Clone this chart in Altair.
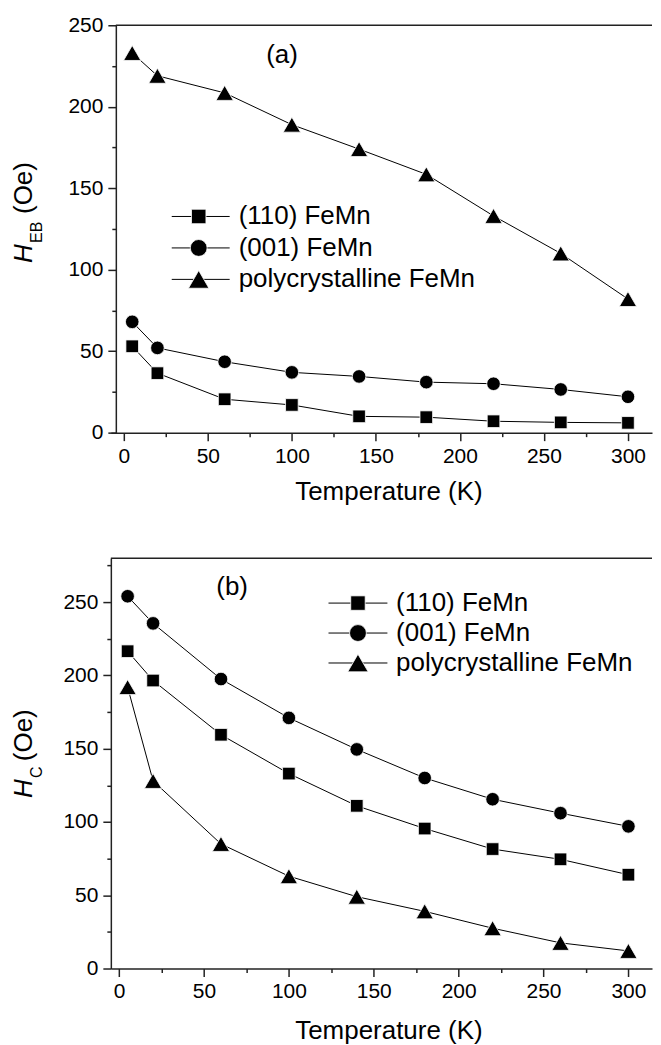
import altair as alt
import pandas as pd

FONT = "Liberation Sans"

# ---------------- data ----------------
TEMPS = [5, 20, 60, 100, 140, 180, 220, 260, 300]
SERIES = ["(110) FeMn", "(001) FeMn", "polycrystalline FeMn"]
SHAPES = ["square", "circle", "triangle-up"]

HEB_110 = [53, 36.5, 20.5, 17, 10, 9.5, 7, 6.3, 6]
HEB_001 = [68, 52, 43.5, 37, 34.5, 31, 30, 26.5, 22]
HEB_POLY = [233, 219, 208.5, 189, 174, 158.5, 133, 110, 82]

HC_110 = [216.5, 196.5, 159.5, 133, 111, 95.5, 81.5, 74.5, 64]
HC_001 = [254, 235.5, 197.5, 171, 149.5, 130, 115.5, 106, 97]
HC_POLY = [192, 128, 85, 63, 49, 39, 27.5, 17.5, 12]

X_TICKS = list(range(0, 301, 25))
YA_TICKS = list(range(0, 251, 25))
YB_TICKS = list(range(0, 276, 25))

X_TITLE = "Temperature (K)"
YA_TITLE = [("H", "italic", 26), ("EB", "normal", 16), ("(Oe)", "normal", 26)]
YB_TITLE = [("H", "italic", 26), ("C", "normal", 16), ("(Oe)", "normal", 26)]

# ---------------- style / layout ----------------
W = 542
PT_SIZES = [160, 185, 300]
LEG_SIZES = [210, 285, 420]
AX = "#222"
MAJOR = "datum.value % 50 === 0"
TICK_SIZE = {"condition": {"test": MAJOR, "value": 8}, "value": 4}
LABEL_EXPR = MAJOR + " ? datum.label : ''"


def long_df(cols):
    rows = []
    for name, vals in zip(SERIES, cols):
        for t, v in zip(TEMPS, vals):
            rows.append({"T": t, "v": v, "series": name})
    return pd.DataFrame(rows)


def axis(values, **kw):
    return alt.Axis(
        values=values, labelExpr=LABEL_EXPR, tickSize=TICK_SIZE, grid=False,
        domainColor=AX, domainWidth=1.5, tickColor=AX, tickWidth=1.5,
        labelFont=FONT, labelFontSize=21, labelColor="black",
        labelFlush=False, labelOverlap=False, **kw)


def one(d):
    return alt.Data(values=[d])


def panel(cols, ydom, yticks, height, xdom, y_off, lab_pad, title_pad,
          tag, tag_xy, leg_rows, leg_x, ytitle, ytitle_pos, top_x0):
    df = long_df(cols)
    base = alt.Chart(df)
    X = alt.X("T:Q", scale=alt.Scale(domain=xdom, nice=False, zero=False),
              axis=axis(X_TICKS, title=X_TITLE, labelPadding=lab_pad,
                        titlePadding=title_pad, titleFont=FONT, titleFontSize=26,
                        titleFontWeight="normal", titleColor="black", titleX=278))
    Y = alt.Y("v:Q", scale=alt.Scale(domain=ydom, nice=False, zero=False),
              axis=axis(yticks, title=None, labelPadding=5, offset=y_off))
    layers = [base.mark_line(color="black", strokeWidth=1).encode(
        x=X, y=Y, detail="series:N")]
    for name, shp, sz in zip(SERIES, SHAPES, PT_SIZES):
        layers.append(base.transform_filter(alt.datum.series == name).mark_point(
            shape=shp, size=sz, filled=True, opacity=1, color="black", fill="black",
            stroke="white", strokeWidth=0.8).encode(x=X, y=Y))

    layers.append(alt.Chart(one({"k": 0})).mark_rule(color=AX, strokeWidth=1.5).encode(
        x=alt.value(top_x0), x2=alt.value(W), y=alt.value(0)))
    layers.append(alt.Chart(one({"t": tag})).mark_text(
        font=FONT, fontSize=26, color="black", align="center", baseline="middle").encode(
        x=alt.value(tag_xy[0]), y=alt.value(tag_xy[1]), text="t:N"))

    x0, x1, xm, xt = leg_x
    for name, shp, yy, sz in zip(SERIES, SHAPES, leg_rows, LEG_SIZES):
        d = one({"label": name})
        layers.append(alt.Chart(d).mark_rule(color="black", strokeWidth=1).encode(
            x=alt.value(x0), x2=alt.value(x1), y=alt.value(yy)))
        layers.append(alt.Chart(d).mark_point(
            shape=shp, filled=True, size=sz, opacity=1, color="black", fill="black",
            stroke="white", strokeWidth=0.8).encode(x=alt.value(xm), y=alt.value(yy)))
        layers.append(alt.Chart(d).mark_text(
            font=FONT, fontSize=26, color="black", align="left", baseline="middle").encode(
            x=alt.value(xt), y=alt.value(yy), text="label:N"))

    for (txt, style, fs), (px, py) in zip(ytitle, ytitle_pos):
        layers.append(alt.Chart(one({"t": txt})).mark_text(
            font=FONT, fontSize=fs, fontStyle=style, color="black", angle=270,
            align="left", baseline="alphabetic").encode(
            x=alt.value(px), y=alt.value(py), text="t:N"))

    return alt.layer(*layers).properties(width=W, height=height)


pa = panel([HEB_110, HEB_001, HEB_POLY], [0, 250], YA_TICKS, 408,
           [-7.72, 314.3], -5, 5, 12,
           "(a)", (171.5, 30), [191.5, 223, 254.5], (61, 119, 88, 128),
           YA_TITLE, [(-79, 238), (-69, 218), (-79, 189)], 5)

pb = panel([HC_110, HC_001, HC_POLY], [0, 280], YB_TICKS, 411,
           [-4.88, 313.9], 0, 4.5, 15.5,
           "(b)", (121.5, 29.3), [45, 75, 105], (218, 277, 247.5, 285.7),
           YB_TITLE, [(-79, 240.3), (-69, 220.3), (-79, 203.3)], 0)

chart = alt.vconcat(pa, pb, spacing=49.7).properties(
    padding={"left": 3, "top": 5.5, "right": 0, "bottom": 0}
).configure_view(strokeWidth=0)

chart.save("out.html", embed_options={"renderer": "svg", "actions": False})
